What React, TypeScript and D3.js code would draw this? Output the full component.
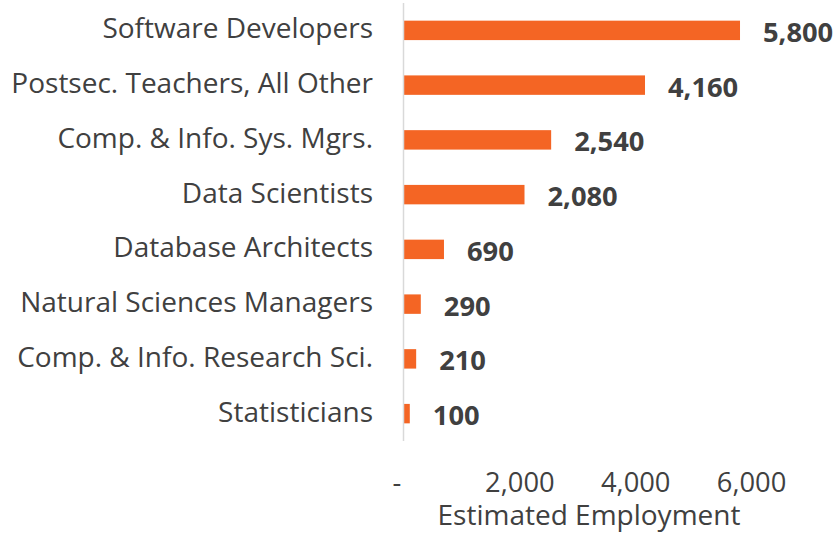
import React from "react";
import * as d3 from "d3";

const categories = [
  "Software Developers",
  "Postsec. Teachers, All Other",
  "Comp. & Info. Sys. Mgrs.",
  "Data Scientists",
  "Database Architects",
  "Natural Sciences Managers",
  "Comp. & Info. Research Sci.",
  "Statisticians",
];
const values = [5800, 4160, 2540, 2080, 690, 290, 210, 100];
const tickValues = [0, 2000, 4000, 6000];
const axisTitle = "Estimated Employment";

const W = 838;
const H = 533;
const FONT = "'Open Sans', sans-serif";
const TEXT = "#404040";
const BAR = "#F46524";

export default function App() {
  const x = d3.scaleLinear().domain([0, 6000]).range([404, 751.6]);
  const y = d3.scaleBand().domain(categories).range([3, 441]).paddingInner(0.645).paddingOuter(0.3225);
  const fmt = d3.format(",");
  return (
    <svg width={W} height={H} style={{ position: "absolute", left: 0, top: 0, background: "#fff" }}>
      <g fontFamily={FONT}>
        {categories.map((c, i) => {
          const cy = (y(c) as number) + y.bandwidth() / 2;
          return (
            <g key={c}>
              <rect x={x(0)} y={y(c)} width={x(values[i]) - x(0)} height={y.bandwidth()} fill={BAR} />
              <text x={373} y={cy + 8} textAnchor="end" fontSize={28} fill={TEXT}>{c}</text>
              <text x={x(values[i]) + 23} y={cy + 11.5} fontSize={27.3} fontWeight={700} fill={TEXT}>{fmt(values[i])}</text>
            </g>
          );
        })}
        <line x1={403.5} x2={403.5} y1={3} y2={441} stroke="#d9d9d9" strokeWidth={1.5} />
        {tickValues.map((t) => (
          <text key={t} x={t === 0 ? 397 : x(t)} y={492} textAnchor="middle" fontSize={27.3} fill={TEXT}>
            {t === 0 ? "-" : fmt(t)}
          </text>
        ))}
        <text x={589} y={525} textAnchor="middle" fontSize={28} fill={TEXT}>{axisTitle}</text>
      </g>
    </svg>
  );
}
